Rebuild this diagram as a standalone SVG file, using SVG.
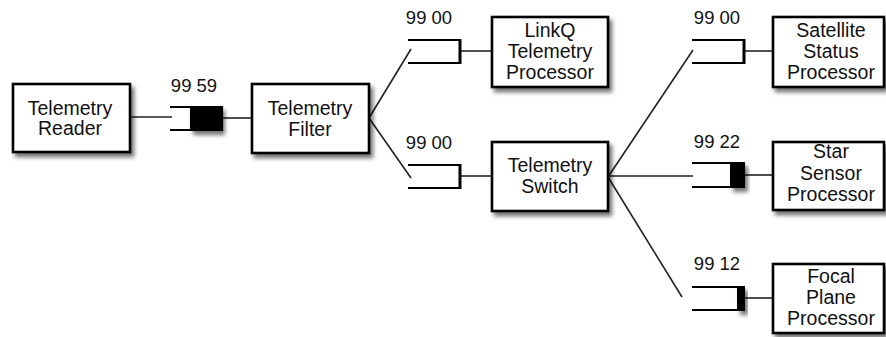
<svg xmlns="http://www.w3.org/2000/svg" width="886" height="337" viewBox="0 0 886 337">
  <defs>
    <filter id="shadow" x="-20%" y="-20%" width="150%" height="160%">
      <feDropShadow dx="3" dy="4" stdDeviation="2.2" flood-color="#000" flood-opacity="0.55"/>
    </filter>
    <style>
      .box { fill: #fff; stroke: #000; stroke-width: 2.6; filter: url(#shadow); }
      .lbl { font-family: "Liberation Sans", Arial, sans-serif; font-size: 19.5px; fill: #111; text-anchor: middle; }
      .qlbl { font-family: "Liberation Sans", Arial, sans-serif; font-size: 18.5px; fill: #111; text-anchor: middle; }
      .wire { stroke: #222; stroke-width: 1.6; fill: none; }
      .q { stroke: #000; stroke-width: 2.2; fill: none; }
      .qend { stroke: #000; stroke-width: 3; fill: none; }
      .qfill { fill: #000; }
      .qshadow { filter: url(#shadow); }
    </style>
  </defs>

  <!-- connectors -->
  <g id="connectors">
    <line class="wire" x1="130" y1="117" x2="172" y2="117"/>
    <line class="wire" x1="222" y1="118" x2="252" y2="118"/>
    <line class="wire" x1="369" y1="118" x2="411" y2="49"/>
    <line class="wire" x1="369" y1="118" x2="411" y2="178"/>
    <line class="wire" x1="461" y1="51" x2="492" y2="51"/>
    <line class="wire" x1="461" y1="176" x2="492" y2="176"/>
    <line class="wire" x1="608" y1="177" x2="693" y2="50"/>
    <line class="wire" x1="608" y1="176" x2="693" y2="176"/>
    <line class="wire" x1="608" y1="177" x2="682" y2="297"/>
    <line class="wire" x1="745" y1="51" x2="773" y2="51"/>
    <line class="wire" x1="745" y1="175" x2="773" y2="175"/>
    <line class="wire" x1="745" y1="298" x2="773" y2="298"/>
  </g>

  <!-- queues -->
  <g id="queue-reader-filter">
    <rect class="qfill qshadow" x="190" y="106" width="32" height="25"/>
    <path class="q" d="M170 107 H222 V130 H170"/>
    <text class="qlbl" x="194" y="92">99 59</text>
  </g>
  <g id="queue-linkq">
    <path class="q" d="M408 40 H461 M408 63 H461"/>
    <line class="qend" x1="460" y1="39" x2="460" y2="64"/>
    <text class="qlbl" x="429" y="24">99 00</text>
  </g>
  <g id="queue-switch">
    <path class="q" d="M408 165 H461 M408 188 H461"/>
    <line class="qend" x1="460" y1="164" x2="460" y2="189"/>
    <text class="qlbl" x="429" y="149">99 00</text>
  </g>
  <g id="queue-satellite">
    <path class="q" d="M692 40 H745 M692 63 H745"/>
    <line class="qend" x1="744" y1="39" x2="744" y2="64"/>
    <text class="qlbl" x="717" y="24">99 00</text>
  </g>
  <g id="queue-star">
    <rect class="qfill qshadow" x="730" y="162" width="15" height="26"/>
    <path class="q" d="M692 163 H745 M692 187 H745"/>
    <text class="qlbl" x="717" y="148">99 22</text>
  </g>
  <g id="queue-focal">
    <rect class="qfill qshadow" x="737" y="286" width="8" height="25"/>
    <path class="q" d="M692 287 H745 M692 310 H745"/>
    <text class="qlbl" x="717" y="270">99 12</text>
  </g>

  <!-- nodes -->
  <g id="telemetry-reader">
    <rect class="box" x="13" y="84" width="117" height="68"/>
    <text class="lbl" x="70" y="115">Telemetry</text>
    <text class="lbl" x="70" y="135">Reader</text>
  </g>
  <g id="telemetry-filter">
    <rect class="box" x="252" y="84" width="117" height="69"/>
    <text class="lbl" x="310" y="115">Telemetry</text>
    <text class="lbl" x="310" y="136">Filter</text>
  </g>
  <g id="linkq-telemetry-processor">
    <rect class="box" x="492" y="17" width="116" height="70"/>
    <text class="lbl" x="550" y="37">LinkQ</text>
    <text class="lbl" x="550" y="58">Telemetry</text>
    <text class="lbl" x="550" y="79">Processor</text>
  </g>
  <g id="telemetry-switch">
    <rect class="box" x="492" y="142" width="116" height="69"/>
    <text class="lbl" x="550" y="172">Telemetry</text>
    <text class="lbl" x="550" y="193">Switch</text>
  </g>
  <g id="satellite-status-processor">
    <rect class="box" x="773" y="17" width="111" height="70"/>
    <text class="lbl" x="831" y="37">Satellite</text>
    <text class="lbl" x="831" y="58">Status</text>
    <text class="lbl" x="831" y="79">Processor</text>
  </g>
  <g id="star-sensor-processor">
    <rect class="box" x="773" y="142" width="111" height="68"/>
    <text class="lbl" x="831" y="158">Star</text>
    <text class="lbl" x="831" y="180">Sensor</text>
    <text class="lbl" x="831" y="201">Processor</text>
  </g>
  <g id="focal-plane-processor">
    <rect class="box" x="773" y="264" width="111" height="69"/>
    <text class="lbl" x="831" y="283">Focal</text>
    <text class="lbl" x="831" y="304">Plane</text>
    <text class="lbl" x="831" y="325">Processor</text>
  </g>
</svg>
